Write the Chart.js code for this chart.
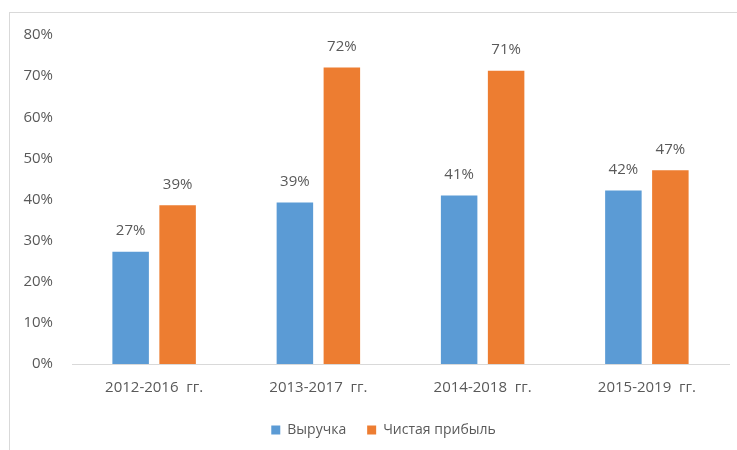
<!DOCTYPE html>
<html>
<head>
<meta charset="utf-8">
<script src="https://cdn.jsdelivr.net/npm/chart.js@4/dist/chart.umd.min.js"></script>
<style>
  body { margin: 0; background: #fff; }
  #wrap { position: relative; width: 737px; height: 450px; overflow: hidden; }
  #frame { position: absolute; left: 9px; top: 12px; width: 800px; height: 500px;
           border-left: 1px solid #d9d9d9; border-top: 1px solid #d9d9d9; }
  canvas { position: absolute; left: 0; top: 0; }
</style>
</head>
<body>
<div id="wrap">
  <div id="frame"></div>
  <canvas id="myChart" width="737" height="450"></canvas>
</div>
<script>
// values
var periods = ["2012-2016  гг.", "2013-2017  гг.", "2014-2018  гг.", "2015-2019  гг."];
var revenue = [27.3, 39.3, 41.0, 42.2];
var revenueLabels = ["27%", "39%", "41%", "42%"];
var profit = [38.6, 72.1, 71.3, 47.1];
var profitLabels = ["39%", "72%", "71%", "47%"];

var textColor = "#595959";
var fontFamily = "'Open Sans', sans-serif";

// draw the % labels above each bar
var barLabels = {
  id: "barLabels",
  afterDatasetsDraw: function(chart) {
    var ctx = chart.ctx;
    ctx.save();
    ctx.font = "15px " + fontFamily;
    ctx.fillStyle = textColor;
    ctx.textAlign = "center";
    ctx.textBaseline = "middle";
    chart.data.datasets.forEach(function(ds, i) {
      var meta = chart.getDatasetMeta(i);
      meta.data.forEach(function(bar, j) {
        ctx.fillText(ds.valueLabels[j], bar.x, bar.y - 21);
      });
    });
    ctx.restore();
  }
};

// legend sits a bit left of the plot centre in the original
var legendShift = {
  id: "legendShift",
  afterLayout: function(chart) {
    chart.legend.left -= 17;
    chart.legend.right -= 17;
  }
};

var canvasChart = document.getElementById("myChart");
var myChart = new Chart(canvasChart, {
  type: 'bar',
  data: {
    labels: periods,
    datasets: [
      {
        label: "Выручка",
        data: revenue,
        valueLabels: revenueLabels,
        backgroundColor: "#5B9BD5",
        categoryPercentage: 0.572,
        barPercentage: 0.777
      },
      {
        label: "Чистая прибыль",
        data: profit,
        valueLabels: profitLabels,
        backgroundColor: "#ED7D31",
        categoryPercentage: 0.572,
        barPercentage: 0.777
      }
    ]
  },
  options: {
    responsive: false,
    animation: false,
    layout: { padding: { top: 35, right: 8, bottom: 3, left: 0 } },
    plugins: {
      tooltip: { enabled: false },
      legend: {
        position: 'bottom',
        fullSize: false,
        labels: {
          boxWidth: 9,
          boxHeight: 9,
          padding: 21,
          color: textColor,
          font: { family: fontFamily, size: 14 }
        }
      }
    },
    scales: {
      x: {
        afterFit: function(scale) { scale.height = 38; },
        grid: { display: false, drawTicks: false },
        border: { display: true, color: "#d9d9d9", width: 1 },
        ticks: {
          color: textColor,
          padding: 15,
          font: { family: fontFamily, size: 15 }
        }
      },
      y: {
        min: 0,
        max: 80,
        afterFit: function(scale) { scale.width = 72; },
        grid: { display: false, drawTicks: false },
        border: { display: false },
        ticks: {
          stepSize: 10,
          color: textColor,
          padding: 19,
          font: { family: fontFamily, size: 15 },
          callback: function(v) { return v + "%"; }
        }
      }
    }
  },
  plugins: [barLabels, legendShift]
});
</script>
</body>
</html>
